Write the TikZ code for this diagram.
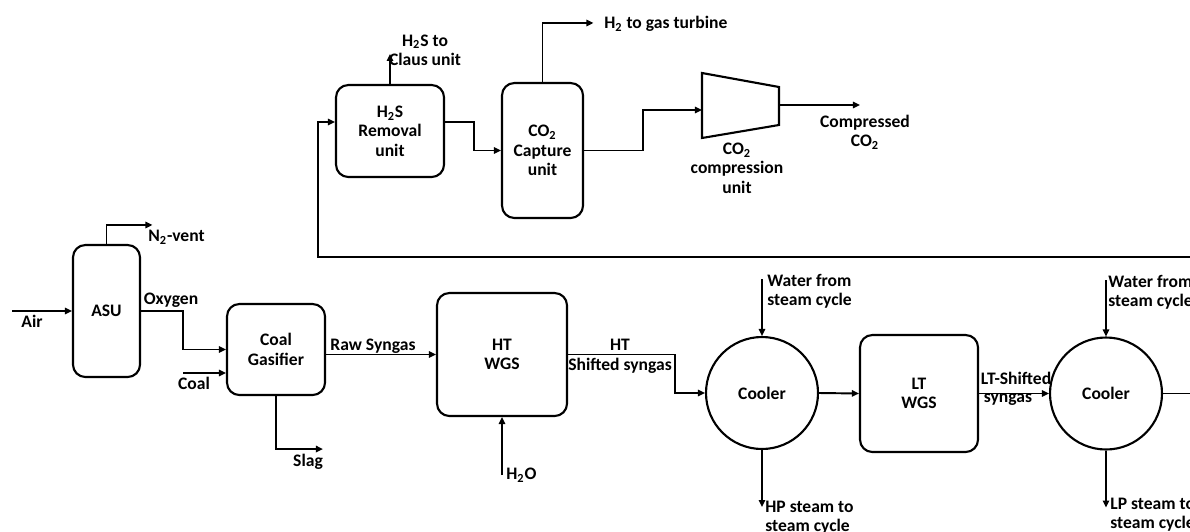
\documentclass[tikz,border=0pt]{standalone}
\usepackage{fontspec}
\setmainfont{Carlito}
\usetikzlibrary{arrows.meta}

\begin{document}
\begin{tikzpicture}[
        x=0.02cm,
        y=-0.02cm,
        unitbox/.style={
            rectangle,
            rounded corners=7pt,
            draw,
            line width=1.2pt,
            align=center,
            font=\fontsize{10}{11}\selectfont\bfseries
        },
        coolernode/.style={
            circle,
            draw,
            line width=1.2pt,
            minimum size=2.24cm,
            font=\fontsize{10}{11}\selectfont\bfseries
        },
        streamtext/.style={
            inner sep=0pt,
            align=center,
            font=\fontsize{10}{11}\selectfont\bfseries
        },
        arrow/.style={
            -{Triangle[length=4pt,width=3.6pt]},
            line width=1.1pt
        },
        pipe/.style={
            line width=1.1pt
        }
    ]

        \useasboundingbox (0,0) rectangle (1190,531);

        % Air separation and gasification
        \node[unitbox, minimum width=1.34cm, minimum height=2.64cm] (asu) at (106.5,311) {ASU};
        \node[unitbox, minimum width=1.96cm, minimum height=1.82cm] (gasifier) at (276,349.5) {Coal\\Gasifier};
        \coordinate (airin) at (12,311);
        \coordinate (coalin) at (183,373);

        \draw[arrow] (airin) -- (asu.west);
        \node[streamtext] (airlab) at (32,321) {Air};
        \draw[arrow] (asu.north) -- ++(0,-19) -- ++(46,0);
        \node[streamtext, anchor=west] (ventlab) at (148,237) {N\textsubscript{2}-vent};
        \draw[arrow] (asu.east) -- ++(42,0) |- (gasifier.west);
        \node[streamtext] (oxlab) at (171,300) {Oxygen};
        \draw[arrow] (coalin) -- (coalin -| gasifier.west);
        \node[streamtext] (coallab) at (194,383) {Coal};
        \draw[arrow] (gasifier.south) -- ++(0,53) -- ++(47,0);
        \node[streamtext] (slaglab) at (308,462) {Slag};

        % Water-gas shift and coolers
        \node[unitbox, minimum width=2.6cm, minimum height=2.46cm] (htwgs) at (502,354.5) {HT\\WGS};
        \node[coolernode] (coolhp) at (762,393) {Cooler};
        \node[unitbox, minimum width=2.36cm, minimum height=2.34cm] (ltwgs) at (919,393.5) {LT\\WGS};
        \node[coolernode] (coollp) at (1106,393.5) {Cooler};
        \coordinate (waterin) at (502,475);
        \coordinate (feedhp) at (762,279);
        \coordinate (feedlp) at (1106,280);
        \coordinate (syngasout) at (1190,393.5);

        \draw[arrow] (gasifier.east |- htwgs.west) -- (htwgs.west);
        \node[streamtext] (rawlab) at (373,346) {Raw Syngas};
        \draw[arrow] (waterin) -- (htwgs.south);
        \node[streamtext, anchor=west] (h2olab) at (506,475) {H\textsubscript{2}O};
        \draw[arrow] (htwgs.east) -- ++(107,0) |- (coolhp.west);
        \node[streamtext] (htlab) at (620,345) {HT};
        \node[streamtext] (shiftlab) at (620,366) {Shifted syngas};
        \draw[arrow] (feedhp) -- (coolhp.north);
        \node[streamtext, anchor=west, align=left] (feedhplab) at (767,291.5) {Water from\\steam cycle};
        \draw[arrow] (coolhp.south) -- ++(0,57);
        \node[streamtext, anchor=west, align=left] (hplab) at (765,518) {HP steam to\\steam cycle};
        \draw[arrow] (coolhp.east) -- (ltwgs.west);
        \draw[arrow] (ltwgs.east) -- (coollp.west);
        \node[streamtext] (ltlab) at (1016,378) {LT-Shifted};
        \node[streamtext] (ltsynlab) at (1008,400) {syngas};
        \draw[arrow] (feedlp) -- (coollp.north);
        \node[streamtext, anchor=west, align=left] (feedlplab) at (1108,292) {Water from\\steam cycle};
        \draw[arrow] (coollp.south) -- ++(0,57);
        \node[streamtext, anchor=west, align=left] (lplab) at (1110,515) {LP steam to\\steam cycle};
        \draw[pipe] (coollp.east) -- (syngasout);

        % Acid gas removal and CO2 compression
        \node[unitbox, minimum width=2.16cm, minimum height=1.84cm] (hsrem) at (390,131) {H\textsubscript{2}S\\Removal\\unit};
        \node[unitbox, minimum width=1.62cm, minimum height=2.7cm] (cocap) at (542.5,150.5) {CO\textsubscript{2}\\Capture\\unit};
        \draw[line width=1.2pt] (702,73) -- (779,87) -- (779,125) -- (702,138) -- cycle;
        \coordinate (compin) at (702,110);
        \coordinate (compout) at (779,105);
        \coordinate (co2out) at (860,105);
        \coordinate (recycle) at (1190,257);

        \draw[arrow] (recycle) -- (318,257) |- ([yshift=0.18cm]hsrem.west);
        \draw[arrow] (hsrem.north) -- ++(0,-30);
        \node[streamtext] (clauslab) at (425,50) {H\textsubscript{2}S to\\Claus unit};
        \draw[arrow] ([yshift=0.18cm]hsrem.east) -- ++(29,0) |- (cocap.west);
        \draw[arrow] (cocap.north) -- ++(0,-59) -- ++(51,0);
        \node[streamtext, anchor=west] (h2lab) at (604,24) {H\textsubscript{2} to gas turbine};
        \draw[arrow] (cocap.east) -- ++(59,0) |- (compin);
        \node[streamtext] (complab) at (737,168) {CO\textsubscript{2}\\compression\\unit};
        \draw[arrow] (compout) -- (co2out);
        \node[streamtext] (co2lab) at (865,132) {Compressed\\CO\textsubscript{2}};

    \end{tikzpicture}
\end{document}
